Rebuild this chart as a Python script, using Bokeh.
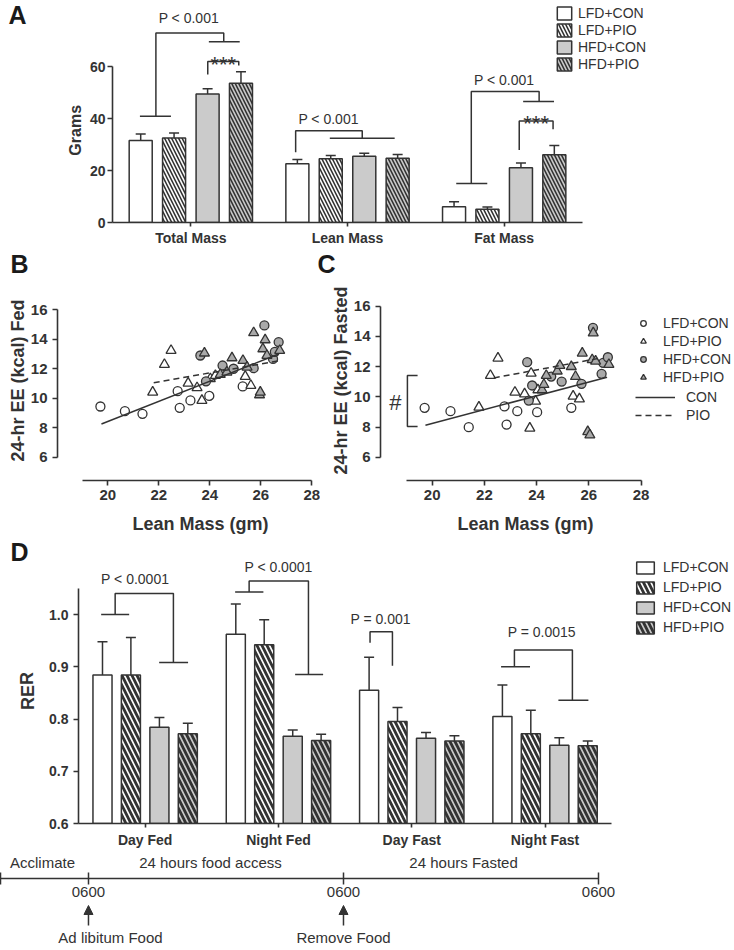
from bokeh.plotting import figure
from bokeh.models import (ColumnDataSource, Range1d, FixedTicker, Whisker, TeeHead,
                          Label, Legend, LegendItem, Arrow, NormalHead, PrintfTickFormatter)
from bokeh.layouts import column, row
from bokeh.embed import file_html
from bokeh.resources import INLINE
from bokeh.core.properties import value

FONT = "Liberation Sans"
INK = "#333333"
LETTER = "#1a1a1a"
BAR_GRAY = "#cbcbcb"
DOT_GRAY = "#a9a9a9"

# ---------------- data ----------------
groups = ["LFD+CON", "LFD+PIO", "HFD+CON", "HFD+PIO"]

# Panel A: body composition (grams), mean and SEM
mass_categories = ["Total Mass", "Lean Mass", "Fat Mass"]
mass_lfd_con = [31.6, 22.7, 6.1]
mass_lfd_pio = [32.6, 24.6, 5.1]
mass_hfd_con = [49.5, 25.5, 21.1]
mass_hfd_pio = [53.7, 24.8, 26.1]
mass_sem_lfd_con = [2.5, 1.6, 1.9]
mass_sem_lfd_pio = [1.9, 1.2, 0.9]
mass_sem_hfd_con = [2.1, 1.2, 1.8]
mass_sem_hfd_pio = [4.4, 1.4, 3.6]

# Panel B: 24-hr EE fed vs lean mass
b_lfd_con_x = [19.71, 20.67, 21.36, 22.74, 22.82, 23.24, 23.98, 25.29]
b_lfd_con_y = [9.44, 9.12, 8.94, 10.48, 9.35, 9.85, 10.16, 10.80]
b_hfd_con_x = [23.63, 23.85, 24.50, 24.93, 25.72, 26.14, 26.48, 26.55, 26.70]
b_hfd_con_y = [12.90, 11.15, 12.22, 12.00, 12.04, 14.94, 12.67, 13.15, 13.81]
b_lfd_pio_x = [21.76, 22.22, 22.48, 23.15, 23.50, 23.69, 24.02, 24.22, 25.39, 25.61]
b_lfd_pio_y = [10.41, 12.29, 13.24, 11.02, 10.71, 9.85, 11.32, 11.54, 11.48, 10.86]
b_hfd_pio_x = [23.79, 24.41, 24.67, 24.87, 25.30, 25.46, 25.72, 25.95, 25.98, 26.08, 26.17, 26.24, 26.74]
b_hfd_pio_y = [13.06, 11.61, 11.77, 12.74, 12.56, 12.11, 14.44, 10.23, 10.41, 13.35, 13.96, 12.90, 13.24]
b_fit_con_x = [19.75, 26.70]
b_fit_con_y = [8.25, 13.00]
b_fit_pio_x = [21.80, 26.75]
b_fit_pio_y = [11.05, 12.55]

# Panel C: 24-hr EE fasted vs lean mass
c_lfd_con_x = [19.71, 20.70, 21.40, 22.77, 22.85, 23.26, 24.02, 25.33]
c_lfd_con_y = [9.27, 9.05, 7.99, 9.36, 8.16, 9.05, 8.98, 9.27]
c_hfd_con_x = [23.64, 23.70, 23.83, 24.56, 24.96, 25.72, 26.16, 26.49, 26.55, 26.73]
c_hfd_con_y = [12.29, 9.75, 10.75, 11.34, 11.01, 10.86, 14.57, 11.52, 12.25, 12.62]
c_lfd_pio_x = [21.79, 22.23, 22.52, 23.17, 23.54, 23.74, 23.79, 23.96, 24.05, 25.40, 25.64]
c_lfd_pio_y = [9.31, 11.41, 12.56, 10.30, 10.19, 7.92, 11.56, 9.71, 10.46, 10.04, 9.86]
c_hfd_pio_x = [24.21, 24.28, 24.37, 24.79, 24.89, 25.33, 25.49, 25.75, 25.96, 26.04, 26.13, 26.17, 26.26, 26.77]
c_hfd_pio_y = [10.46, 10.81, 11.41, 11.70, 12.07, 12.00, 11.34, 12.89, 7.69, 7.47, 12.45, 14.23, 12.36, 12.14]
c_fit_con_x = [19.74, 26.70]
c_fit_con_y = [8.12, 11.30]
c_fit_pio_x = [22.36, 26.40]
c_fit_pio_y = [11.25, 12.55]

# Panel D: RER, mean and SEM
rer_categories = ["Day Fed", "Night Fed", "Day Fast", "Night Fast"]
rer_lfd_con = [0.884, 0.962, 0.855, 0.805]
rer_lfd_pio = [0.884, 0.942, 0.795, 0.772]
rer_hfd_con = [0.784, 0.767, 0.763, 0.750]
rer_hfd_pio = [0.772, 0.759, 0.758, 0.749]
rer_sem_lfd_con = [0.064, 0.058, 0.063, 0.060]
rer_sem_lfd_pio = [0.072, 0.048, 0.027, 0.045]
rer_sem_hfd_con = [0.019, 0.012, 0.011, 0.014]
rer_sem_hfd_pio = [0.020, 0.012, 0.010, 0.009]

# Timeline (hours from first 0600)
timeline_start_h = -8.28
timeline_ticks_h = [0, 24, 48]
timeline_tick_labels = ["0600", "0600", "0600"]
phase_labels = ["Acclimate", "24 hours food access", "24 hours Fasted"]
phase_centers_h = [-4.33, 11.48, 35.3]
event_times_h = [0, 24]
event_labels = ["Ad libitum Food", "Remove Food"]
event_label_x_h = [2.07, 24.0]

# ---------------- annotations (significance brackets) ----------------
A_BRACKETS = [
    ([-0.325, -0.127], [41.0, 41.0]),
    ([-0.223, -0.223, 0.21, 0.21], [41.0, 73.1, 73.1, 69.7]),
    ([0.115, 0.312], [69.7, 69.7]),
    ([0.108, 0.108, 0.306, 0.306], [57.1, 62.1, 62.1, 60.5]),
    ([0.669, 0.669, 1.094, 1.094], [27.1, 35.4, 35.4, 32.5]),
    ([0.887, 1.301], [32.5, 32.5]),
    ([1.694, 1.892], [15.0, 15.0]),
    ([1.79, 1.79, 2.223, 2.223], [15.0, 50.5, 50.5, 46.7]),
    ([2.121, 2.318], [46.7, 46.7]),
    ([2.096, 2.096, 2.312, 2.312], [28.0, 39.1, 39.1, 36.0]),
]
A_TEXTS = [(-0.013, 78.8, "P < 0.001"), (0.879, 39.8, "P < 0.001"), (2.0, 55.1, "P < 0.001")]
A_STARS = [(0.207, 61.0), (2.204, 38.1)]

D_BRACKETS = [
    ([-0.33, -0.12], [1.0, 1.0]),
    ([-0.225, -0.225, 0.212, 0.212], [1.0, 1.040, 1.040, 0.908]),
    ([0.105, 0.322], [0.908, 0.908]),
    ([0.675, 0.887], [1.043, 1.043]),
    ([0.78, 0.78, 1.225, 1.225], [1.043, 1.064, 1.064, 0.885]),
    ([1.125, 1.335], [0.885, 0.885]),
    ([1.687, 1.687, 1.855, 1.855], [0.946, 0.967, 0.967, 0.902]),
    ([2.67, 2.887], [0.900, 0.900]),
    ([2.77, 2.77, 3.205, 3.205], [0.900, 0.932, 0.932, 0.836]),
    ([3.1, 3.325], [0.836, 0.836]),
]
D_TEXTS = [(-0.075, 1.068, "P < 0.0001"), (1.0, 1.091, "P < 0.0001"),
           (1.767, 0.991, "P = 0.001"), (2.975, 0.966, "P = 0.0015")]

# ---------------- helpers ----------------
OFFSETS = [-0.32, -0.107, 0.107, 0.32]
STYLE = {
    "LFD+CON": dict(fill_color="white", hatch_pattern=None),
    "LFD+PIO": dict(fill_color="white", hatch_pattern="\\"),
    "HFD+CON": dict(fill_color=BAR_GRAY, hatch_pattern=None),
    "HFD+PIO": dict(fill_color=BAR_GRAY, hatch_pattern="\\"),
}


def base_fig(width, height, xr, yr, left=0, right=0, top=0, bottom=0, **kw):
    x_range = xr if isinstance(xr, Range1d) else Range1d(*xr)
    p = figure(width=width, height=height, x_range=x_range, y_range=Range1d(*yr),
               output_backend="svg", toolbar_location=None, title=None,
               min_border_left=left, min_border_right=right,
               min_border_top=top, min_border_bottom=bottom, **kw)
    p.outline_line_color = None
    p.xgrid.visible = False
    p.ygrid.visible = False
    p.background_fill_color = "white"
    p.border_fill_color = "white"
    return p


def strip(width, height):
    """Plain text canvas: data units are pixels from the strip's top-left corner."""
    return base_fig(width, height, (0, width), (height, 0),
                    x_axis_location=None, y_axis_location=None)


def put_text(p, x, y, text, size, bold=True, angle=0.0, align="center", color=INK):
    p.text(x=[x], y=[y], text=[text], angle=angle, text_font=value(FONT),
           text_font_style="bold" if bold else "normal", text_font_size=size,
           text_color=color, text_align=align, text_baseline="middle")


def style_axis(ax, size="14px", standoff=5, tick_out=5, label_size="18px", label_standoff=0, bold=True):
    ax.axis_line_color = INK
    ax.axis_line_width = 1.6
    ax.major_tick_line_color = INK
    ax.major_tick_line_width = 1.6
    ax.major_tick_in = 0
    ax.major_tick_out = tick_out
    ax.minor_tick_line_color = None
    ax.major_label_text_font = FONT
    ax.major_label_text_font_style = "bold" if bold else "normal"
    ax.major_label_text_font_size = size
    ax.major_label_text_color = INK
    ax.major_label_standoff = standoff
    ax.axis_label_text_font = FONT
    ax.axis_label_text_font_style = "bold"
    ax.axis_label_text_color = INK
    ax.axis_label_text_font_size = label_size
    ax.axis_label_standoff = label_standoff


def draw_bars(p, means, sems, width, bottom, hatch_scale, hatch_weight):
    rends = {}
    for g, off in zip(groups, OFFSETS):
        m = means[g]
        s = sems[g]
        src = ColumnDataSource(dict(x=[i + off for i in range(len(m))], top=m,
                                    upper=[a + b for a, b in zip(m, s)]))
        st = STYLE[g]
        r = p.vbar(x="x", top="top", bottom=bottom, width=width, source=src,
                   fill_color=st["fill_color"], line_color=INK, line_width=1.5,
                   hatch_pattern=st["hatch_pattern"], hatch_color=INK,
                   hatch_weight=hatch_weight, hatch_scale=hatch_scale)
        p.add_layout(Whisker(source=src, base="x", lower="top", upper="upper", dimension="height",
                             line_color=INK, line_width=1.5, lower_head=None,
                             upper_head=TeeHead(size=10, line_color=INK, line_width=1.5)))
        rends[g] = r
    return rends


def brackets(p, paths, texts, size="14px"):
    p.multi_line(xs=[b[0] for b in paths], ys=[b[1] for b in paths], line_color=INK, line_width=1.5)
    for x, y, t in texts:
        p.add_layout(Label(x=x, y=y, text=t, text_font=FONT, text_font_size=size, text_color=INK,
                           text_align="center", text_baseline="middle"))


LEG = dict(orientation="vertical", padding=0, spacing=0, margin=0,
           label_text_font=FONT, label_text_font_size="14px", label_text_color=INK,
           background_fill_alpha=0, border_line_color=None)


def bar_legend(p, rends, loc, gw, gh, lh, standoff):
    p.add_layout(Legend(items=[LegendItem(label=g, renderers=[rends[g]]) for g in groups],
                        location=loc, glyph_width=gw, glyph_height=gh, label_height=lh,
                        label_standoff=standoff, **LEG))


# ---------------- Panel A ----------------
sA = strip(86, 248)
put_text(sA, 8, 16, "A", "25px", align="left", color=LETTER)
put_text(sA, 75, 145, "Grams", "16px", angle=1.5708)

pA = base_fig(648, 248, (-0.5, 3.470), (0, 85.6), left=26, bottom=24)
style_axis(pA.yaxis[0], tick_out=5, standoff=2)
pA.yaxis.bounds = (0, 60)
pA.yaxis.ticker = FixedTicker(ticks=[0, 20, 40, 60])
style_axis(pA.xaxis[0], tick_out=4, standoff=3)
pA.xaxis.bounds = (-0.5, 2.5)
pA.xaxis.ticker = FixedTicker(ticks=list(range(len(mass_categories))))
pA.xaxis.major_label_overrides = {i: c for i, c in enumerate(mass_categories)}
mass_means = dict(zip(groups, [mass_lfd_con, mass_lfd_pio, mass_hfd_con, mass_hfd_pio]))
mass_sems = dict(zip(groups, [mass_sem_lfd_con, mass_sem_lfd_pio, mass_sem_hfd_con, mass_sem_hfd_pio]))
rA = draw_bars(pA, mass_means, mass_sems, 0.147, 0, 7, 1.6)
brackets(pA, A_BRACKETS, A_TEXTS)
for x, y in A_STARS:
    pA.add_layout(Label(x=x, y=y, text="***", text_font=FONT, text_font_size="22px",
                        text_color=INK, text_align="center", text_baseline="alphabetic"))
bar_legend(pA, rA, (443, 150), 18, 16, 17, 5)

# ---------------- Panels B / C ----------------
sBC = strip(734, 32)
put_text(sBC, 10, 15, "B", "25px", align="left", color=LETTER)
put_text(sBC, 317, 15, "C", "25px", align="left", color=LETTER)


def scatter_panel(p, data, fits):
    (lcx, lcy), (lpx, lpy), (hcx, hcy), (hpx, hpy) = data
    r1 = p.scatter(lcx, lcy, marker="circle", size=9, fill_color="white", line_color=INK, line_width=1.3)
    r2 = p.scatter(lpx, lpy, marker="triangle", size=10, fill_color="white", line_color=INK, line_width=1.3)
    r3 = p.scatter(hcx, hcy, marker="circle", size=9, fill_color=DOT_GRAY, line_color=INK, line_width=1.3)
    r4 = p.scatter(hpx, hpy, marker="triangle", size=10, fill_color=DOT_GRAY, line_color=INK, line_width=1.3)
    (cx, cy), (px_, py_) = fits
    l1 = p.line(cx, cy, line_color=INK, line_width=1.5)
    l2 = p.line(px_, py_, line_color=INK, line_width=1.5, line_dash="6 4")
    return [r1, r2, r3, r4], [l1, l2]


def scatter_axes(p, ylabel):
    style_axis(p.xaxis[0], size="15px", tick_out=5, standoff=4)
    p.xaxis.bounds = (19, 28)
    p.xaxis.ticker = FixedTicker(ticks=[20, 22, 24, 26, 28])
    style_axis(p.yaxis[0], size="15px", tick_out=5, standoff=5, label_standoff=0)
    p.yaxis.bounds = (6, 16)
    p.yaxis.ticker = FixedTicker(ticks=[6, 8, 10, 12, 14, 16])
    p.yaxis.axis_label = ylabel


pB = base_fig(320, 227, (18.027, 28.341), (4.419, 17.988), left=57, bottom=27)
scatter_axes(pB, "24-hr EE (kcal) Fed")
scatter_panel(pB, [(b_lfd_con_x, b_lfd_con_y), (b_lfd_pio_x, b_lfd_pio_y),
                   (b_hfd_con_x, b_hfd_con_y), (b_hfd_pio_x, b_hfd_pio_y)],
              [(b_fit_con_x, b_fit_con_y), (b_fit_pio_x, b_fit_pio_y)])

pC = base_fig(414, 227, (18.019, 31.582), (4.457, 17.702), left=60, bottom=27)
scatter_axes(pC, "24-hr EE (kcal) Fasted")
mk, ln = scatter_panel(pC, [(c_lfd_con_x, c_lfd_con_y), (c_lfd_pio_x, c_lfd_pio_y),
                            (c_hfd_con_x, c_hfd_con_y), (c_hfd_pio_x, c_hfd_pio_y)],
                       [(c_fit_con_x, c_fit_con_y), (c_fit_pio_x, c_fit_pio_y)])
pC.multi_line(xs=[[19.44, 19.05, 19.05, 19.44]], ys=[[11.41, 11.41, 8.03, 8.03]],
              line_color=INK, line_width=1.5)
pC.add_layout(Label(x=18.59, y=9.6, text="#", text_font=FONT, text_font_size="22px",
                    text_color=INK, text_align="center", text_baseline="middle"))
pC.add_layout(Legend(items=[LegendItem(label=g, renderers=[r]) for g, r in zip(groups, mk)],
                     location=(256, 94), glyph_width=14, glyph_height=14, label_height=18,
                     label_standoff=13, **LEG))
pC.add_layout(Legend(items=[LegendItem(label=t, renderers=[r]) for t, r in zip(["CON", "PIO"], ln)],
                     location=(255, 56), glyph_width=40, glyph_height=14, label_height=18,
                     label_standoff=11, **LEG))

sBC2 = strip(734, 31)
put_text(sBC2, 200, 16, "Lean Mass (gm)", "18px")
put_text(sBC2, 525, 16, "Lean Mass (gm)", "18px")

# ---------------- Panel D ----------------
sD = strip(45, 312)
put_text(sD, 10, 15, "D", "25px", align="left", color=LETTER)
put_text(sD, 27, 167, "RER", "18px", angle=1.5708)

pD = base_fig(689, 312, (-0.5, 4.421), (0.6, 1.1455), left=33, bottom=27)
style_axis(pD.yaxis[0], tick_out=5, standoff=5)
pD.yaxis.bounds = (0.6, 1.05)
pD.yaxis.ticker = FixedTicker(ticks=[0.6, 0.7, 0.8, 0.9, 1.0])
pD.yaxis.formatter = PrintfTickFormatter(format="%.1f")
style_axis(pD.xaxis[0], tick_out=4, standoff=4)
pD.xaxis.bounds = (-0.5, 3.5)
pD.xaxis.ticker = FixedTicker(ticks=list(range(len(rer_categories))))
pD.xaxis.major_label_overrides = {i: c for i, c in enumerate(rer_categories)}
rer_means = dict(zip(groups, [rer_lfd_con, rer_lfd_pio, rer_hfd_con, rer_hfd_pio]))
rer_sems = dict(zip(groups, [rer_sem_lfd_con, rer_sem_lfd_pio, rer_sem_hfd_con, rer_sem_hfd_pio]))
rD = draw_bars(pD, rer_means, rer_sems, 0.143, 0.6, 10, 2.8)
brackets(pD, D_BRACKETS, D_TEXTS)
bar_legend(pD, rD, (556, 186), 22, 15, 20, 7)

# ---------------- Timeline ----------------
t_range = Range1d(timeline_start_h, 60.8)
pT = base_fig(734, 54, t_range, (0, 28), bottom=26, y_axis_location=None)
style_axis(pT.xaxis[0], size="15px", standoff=2, tick_out=6, bold=False)
pT.xaxis.major_tick_in = 6
pT.xaxis.axis_line_width = 1.5
pT.xaxis.major_tick_line_width = 1.5
pT.xaxis.bounds = (timeline_start_h, max(timeline_ticks_h))
pT.xaxis.ticker = FixedTicker(ticks=[timeline_start_h] + timeline_ticks_h)
overrides = {t: l for t, l in zip(timeline_ticks_h, timeline_tick_labels)}
overrides[timeline_start_h] = ""
pT.xaxis.major_label_overrides = overrides
pT.text(x=phase_centers_h, y=[16] * len(phase_labels), text=phase_labels,
        text_font=value(FONT), text_font_size="15px", text_color=INK,
        text_align="center", text_baseline="middle")

pT2 = base_fig(734, 46, t_range, (0, 46), x_axis_location=None, y_axis_location=None)
for t in event_times_h:
    pT2.add_layout(Arrow(end=NormalHead(size=9, fill_color=INK, line_color=INK, line_width=1),
                         x_start=t, y_start=25, x_end=t, y_end=45,
                         line_color=INK, line_width=1.5))
pT2.text(x=event_label_x_h, y=[13] * len(event_labels), text=event_labels,
         text_font=value(FONT), text_font_size="15px", text_color=INK,
         text_align="center", text_baseline="middle")

layout = column(row(sA, pA), sBC, row(pB, pC), sBC2, row(sD, pD), pT, pT2)
open("out.html", "w").write(file_html(layout, INLINE))
